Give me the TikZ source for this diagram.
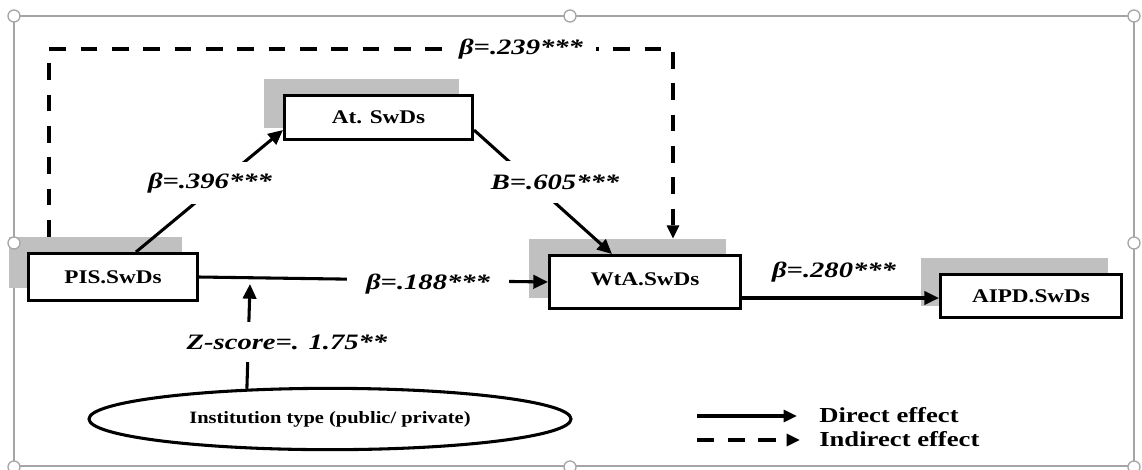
\documentclass[tikz,border=0pt]{standalone}
\usepackage{fontspec}
\setmainfont{Liberation Serif}
\usetikzlibrary{arrows.meta,shapes.geometric,calc}
\definecolor{shade}{RGB}{192,192,192}
\definecolor{framegray}{RGB}{165,165,165}
\newcommand{\hs}[2]{\scalebox{#1}[1]{#2}}
\begin{document}
\begin{tikzpicture}[x=0.75pt,y=-0.75pt,
  boxnode/.style={draw=black, line width=2.3pt, fill=white, inner sep=0pt, font=\fontsize{14.5}{16}\selectfont\bfseries},
  shadenode/.style={fill=shade, draw=none, inner sep=0pt},
  lbl/.style={fill=white, inner xsep=10pt, inner ysep=0pt, minimum height=31pt, font=\fontsize{16.5}{18}\selectfont\bfseries\itshape},
  arr/.style={line width=2.3pt, -{Triangle[length=11pt,width=10pt]}},
  dasharr/.style={line width=2.3pt, dash pattern=on 12.5pt off 11pt, -{Triangle[length=10pt,width=9pt]}},
  handle/.style={circle, draw=framegray, fill=white, line width=1pt, minimum size=9pt, inner sep=0pt},
  legtext/.style={anchor=west, inner sep=0pt, font=\fontsize{16}{18}\selectfont\bfseries}]

\useasboundingbox (0,0) rectangle (1142,469);
\fill[white] (0,0) rectangle (1142,469);
\draw[framegray, line width=1.1pt] (14,16) rectangle (1134,466);

% shadows
\node[shadenode, minimum width=146.25pt, minimum height=36.75pt] (atsh) at (361.5,103.5) {};
\node[shadenode, minimum width=129.75pt, minimum height=38.25pt] (pissh) at (95.5,262.5) {};
\node[shadenode, minimum width=147.75pt, minimum height=44.25pt] (wtash) at (627.5,268.5) {};
\node[shadenode, minimum width=140.25pt, minimum height=36pt] (aipdsh) at (1014.5,282) {};

% boxes
\node[boxnode, minimum width=141pt, minimum height=33pt] (at) at (378.5,117.5) {\hs{1.2}{At. SwDs}};
\node[boxnode, minimum width=126.7pt, minimum height=35.2pt] (pis) at (113,277) {\hs{1.2}{PIS.SwDs}};
\node[boxnode, minimum width=143.2pt, minimum height=39.7pt] (wta) at (645,282) {\raisebox{5pt}{\hs{1.2}{WtA.SwDs}}};
\node[boxnode, minimum width=135.7pt, minimum height=32.2pt] (aipd) at (1031,296) {\hs{1.2}{AIPD.SwDs}};

% ellipse
\node[draw, ellipse, line width=2.3pt, minimum width=361.5pt, minimum height=46pt, inner sep=0pt,
      font=\fontsize{13}{15}\selectfont\bfseries] (inst) at (330,419) {\hs{1.18}{Institution type (public/ private)}};

% dashed indirect path
\coordinate (d1) at (49,49);
\coordinate (d2) at (673,49);
\draw[dasharr] (pissh.north -| d1) -- (d1) -- (d2) -- (d2 |- wtash.north);
\node[lbl] (l239) at (521,49) {\hs{1.3}{β=.239***}};

% direct paths
\draw[arr] ($(pis.north)+(23,0)$) -- ($(at.south west)+(0,-11)$);
\node[lbl] (l396) at (210,183) {\hs{1.3}{β=.396***}};

\draw[arr] ($(at.south east)+(0,-11)$) -- ($(wta.north west)+(64,0)$);
\node[lbl] (l605) at (555,182) {\hs{1.3}{B=.605***}};

\draw[arr] (pis.east) -- (wta.west);
\node[lbl, inner xsep=14pt] (l188) at (428,284) {\hs{1.3}{β=.188***}};

\draw[arr] ($(wta.south east)+(0,-12)$) -- ($(aipd.south west)+(0,-21)$);
\node[lbl, fill=none] (l280) at (834,272) {\hs{1.3}{β=.280***}};

% moderator
\coordinate (zt) at (250,284);
\draw[arr] (inst.160) -- (zt);
\node[lbl, minimum height=30pt, inner xsep=4pt] (lz) at (287,342) {\hs{1.3}{Z-score=. 1.75**}};

% legend
\coordinate (ls1) at (697,416);
\coordinate (le1) at (797,416);
\coordinate (ls2) at (697,440);
\coordinate (le2) at (800,440);
\draw[arr, -{Triangle[length=10pt,width=9pt]}] (ls1) -- (le1);
\draw[line width=2.3pt, dash pattern=on 13pt off 10pt, -{Triangle[length=10pt,width=9pt]}] (ls2) -- (le2);
\node[legtext] (ldir) at (819,415) {\hs{1.25}{Direct effect}};
\node[legtext] (lind) at (819,439) {\hs{1.25}{Indirect effect}};

% selection handles
\foreach \p/\n in {{(14,16)}/h1,{(570,16)}/h2,{(1134,16)}/h3,{(14,243)}/h4,{(1134,243)}/h5,{(570,467)}/h6,{(1134,467)}/h7,{(14,467)}/h8}
  \node[handle] (\n) at \p {};
\end{tikzpicture}
\end{document}
